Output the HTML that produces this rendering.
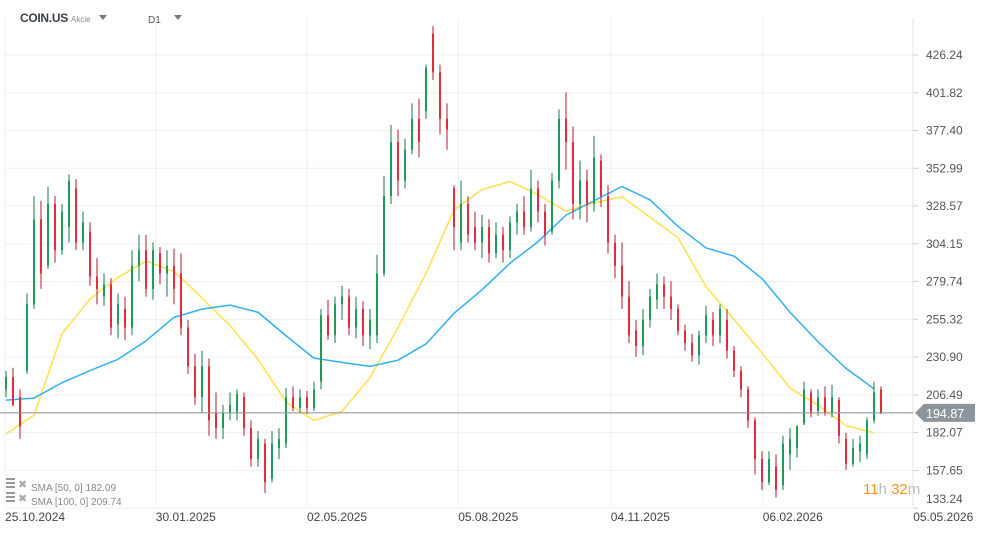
<!DOCTYPE html>
<html><head><meta charset="utf-8"><style>
html,body{margin:0;padding:0;background:#fff;}
body{width:986px;height:533px;overflow:hidden;font-family:"Liberation Sans",sans-serif;}
</style></head><body>
<svg id="chart" width="986" height="533" xmlns="http://www.w3.org/2000/svg" style="position:absolute;left:0;top:0">
<g id="grid"></g>
<g id="sma"></g>
<g id="candles"></g>
<g id="axes"></g>
<g>
<text x="20" y="22" font-size="12" font-weight="bold" fill="#3a4047" letter-spacing="-0.3">COIN.US</text>
<text x="71" y="22" font-size="8" fill="#888">Akcie</text>
<path d="M99 15 L107 15 L103 20 Z" fill="#777"/>
<text x="148" y="23" font-size="10" fill="#555">D1</text>
<path d="M174 15 L182 15 L178 20 Z" fill="#777"/>
</g>
<g font-size="10" fill="#888">
<g>
<rect x="6" y="478" width="9" height="2" fill="#999"/><rect x="6" y="482" width="9" height="2" fill="#999"/><rect x="6" y="486" width="9" height="2" fill="#999"/>
<text x="18" y="488" font-size="11" fill="#aaa">✖</text>
<text x="31" y="491">SMA [50, 0] 182.09</text></g>
<g>
<rect x="6" y="492" width="9" height="2" fill="#999"/><rect x="6" y="496" width="9" height="2" fill="#999"/><rect x="6" y="500" width="9" height="2" fill="#999"/>
<text x="18" y="502" font-size="11" fill="#aaa">✖</text>
<text x="31" y="505">SMA [100, 0] 209.74</text></g>
</g>
<text x="863" y="494" font-size="15"><tspan fill="#f7931e">11</tspan><tspan fill="#bbb">h </tspan><tspan fill="#f7931e">32</tspan><tspan fill="#bbb">m</tspan></text>
</svg>
<script>
const opens  = [210,218,205,222,265,320,290,330,300,315,340,305,312,283,270,278,252,262,250,290,300,275,298,285,290,285,250,225,205,225,195,185,195,195,205,185,165,175,152,172,175,205,198,205,198,215,258,245,265,270,250,262,245,245,285,335,370,345,365,385,390,440,415,385,340,305,330,315,305,315,298,310,300,318,325,315,340,325,312,345,385,370,330,345,330,358,335,305,290,270,248,238,255,268,278,270,262,248,240,232,245,255,245,255,235,222,210,190,165,150,160,148,168,172,188,208,196,205,195,203,178,162,170,168,190,210];
const closes = [218,200,186,265,320,285,330,300,325,345,305,318,283,275,278,250,265,250,290,300,275,300,285,290,275,250,225,205,225,190,185,195,200,207,185,165,178,150,175,178,205,198,205,198,210,258,245,265,270,250,262,245,255,285,335,370,345,365,385,370,418,415,385,378,315,330,310,305,315,298,310,300,318,325,315,340,325,310,345,385,370,330,345,330,360,335,305,290,270,245,238,255,270,278,270,262,248,240,232,245,258,245,262,235,222,210,190,165,150,165,145,175,178,186,210,195,205,195,205,180,162,172,175,190,208,195];
const highs  = [222,224,210,272,335,332,341,335,330,349,346,325,318,295,285,282,272,270,300,310,310,305,302,300,301,298,255,233,235,230,208,200,208,210,208,190,183,178,183,185,211,212,210,209,215,262,268,270,277,275,270,267,262,297,348,381,378,372,395,398,420,445,420,395,342,345,335,325,323,320,318,315,322,330,335,352,345,330,350,391,402,380,358,352,374,362,342,310,305,280,255,262,275,285,283,280,265,252,246,248,264,260,265,262,238,225,212,192,170,170,168,180,185,187,215,210,210,212,213,205,182,178,180,192,215,212];
const lows   = [205,199,178,220,262,275,288,292,297,305,300,300,277,265,264,245,243,242,245,280,270,268,278,270,265,245,220,200,195,180,178,178,190,190,180,160,160,143,150,165,172,196,195,194,196,210,242,240,255,245,243,238,236,240,283,330,335,340,362,360,385,410,375,365,300,300,305,300,295,292,295,292,295,310,310,312,318,303,310,340,352,320,320,318,325,328,298,282,262,240,231,232,250,262,262,255,245,235,228,226,240,238,240,230,218,205,185,155,145,148,140,145,158,166,187,192,193,193,192,175,158,160,163,165,188,194];
const smaIdx = [0,4,8,12,16,20,24,28,32,36,40,44,48,52,56,60,64,68,72,76,80,84,88,92,96,100,104,108,112,116,120,124];
const sma50  = [181.3,193.2,246,268.5,282.4,293,286.3,269.2,251.3,229.5,201.8,189.9,195.8,217.6,250,285,326,339.2,344.5,335.9,325.3,330.6,334.6,321.4,308.1,276.4,255.3,233.5,211,199.8,186.6,182];
const sma100 = [203.1,204.4,214.3,222.2,229.5,241.4,256.6,261.9,264.5,259.9,244.7,230.2,227.5,224.9,228.9,239.4,259.2,274.4,291.6,305.5,322.7,332,341.2,332.6,315.4,301.5,296.2,281.7,259.9,240.8,223.6,210.4];
const yTicks = [426.24,401.82,377.40,352.99,328.57,304.15,279.74,255.32,230.90,206.49,182.07,157.65,133.24];
const dateLabels = ["25.10.2024","30.01.2025","02.05.2025","05.08.2025","04.11.2025","06.02.2026","05.05.2026"];
const dateIdx = [-0.14,21.4,43.0,64.6,86.4,108.1,129.6];
const lastPrice = 194.87;

const NS="http://www.w3.org/2000/svg";
function xOf(i){return 6+7*i;}
function yOf(p){return 55+(426.24-p)*1.5465;}
function mk(tag,attrs,parent){const e=document.createElementNS(NS,tag);for(const k in attrs)e.setAttribute(k,attrs[k]);parent.appendChild(e);return e;}
const grid=document.getElementById('grid'),axes=document.getElementById('axes'),cg=document.getElementById('candles'),sg=document.getElementById('sma');

yTicks.forEach(function(t,k){
  const y=yOf(t);
  const l=mk('line',{x1:5,x2:913,y1:y,y2:y,stroke:'#efefef','stroke-width':1},grid);
  
  
  const ty=(k===yTicks.length-1)?503:y+4;
  const tx=mk('text',{x:926,y:ty,'font-size':12,fill:'#555'},axes);
  tx.textContent=t.toFixed(2);
  
  
  const tk=mk('line',{x1:913,x2:918,y1:y,y2:y,stroke:'#ccc'},axes);
  
  
});
dateIdx.forEach(function(d,k){
  const x=xOf(d);
  const l=mk('line',{x1:x,x2:x,y1:18,y2:506,stroke:'#efefef','stroke-width':1},grid);
  
  
  const tx=mk('text',{x:Math.min(x,914),y:521,'font-size':12,fill:'#444'},axes);
  tx.textContent=dateLabels[k];
  
  
});
const ax=mk('line',{x1:913,x2:913,y1:18,y2:506,stroke:'#e6e6e6'},grid);



function smaPath(vals,color,name){
  let d='';
  vals.forEach(function(v,k){d+=(k?'L':'M')+xOf(smaIdx[k])+' '+yOf(v)+' ';});
  const p=mk('path',{d:d,fill:'none',stroke:color,'stroke-width':1.5,'stroke-linejoin':'round'},sg);
  
  
}
smaPath(sma50,'#ffe14d','sma-50-line');
smaPath(sma100,'#2fb0f0','sma-100-line');

opens.forEach(function(o,i){
  const c=closes[i],x=xOf(i),up=c>=o,col=up?'#1e9a5c':'#e8283c';
  const g=mk('g',{},cg);
  
  
  mk('line',{x1:x,x2:x,y1:yOf(highs[i]),y2:yOf(lows[i]),stroke:up?'#137a45':'#b01c2c','stroke-width':1},g);
  const top=yOf(Math.max(o,c)),bot=yOf(Math.min(o,c));
  mk('rect',{x:x-1,y:top,width:2,height:Math.max(1,bot-top),fill:col},g);
});

const ly=yOf(lastPrice);
const pl=mk('line',{x1:0,x2:913,y1:ly,y2:ly,stroke:'#8a8f94','stroke-width':1},axes);


const lab=mk('path',{d:'M915 '+ly+' L924 '+(ly-9)+' L975 '+(ly-9)+' L975 '+(ly+9)+' L924 '+(ly+9)+' Z',fill:'#8c959b'},axes);


const lt=mk('text',{x:926,y:ly+5,'font-size':12.5,fill:'#fff'},axes);
lt.textContent=lastPrice.toFixed(2);


</script>
</body></html>
